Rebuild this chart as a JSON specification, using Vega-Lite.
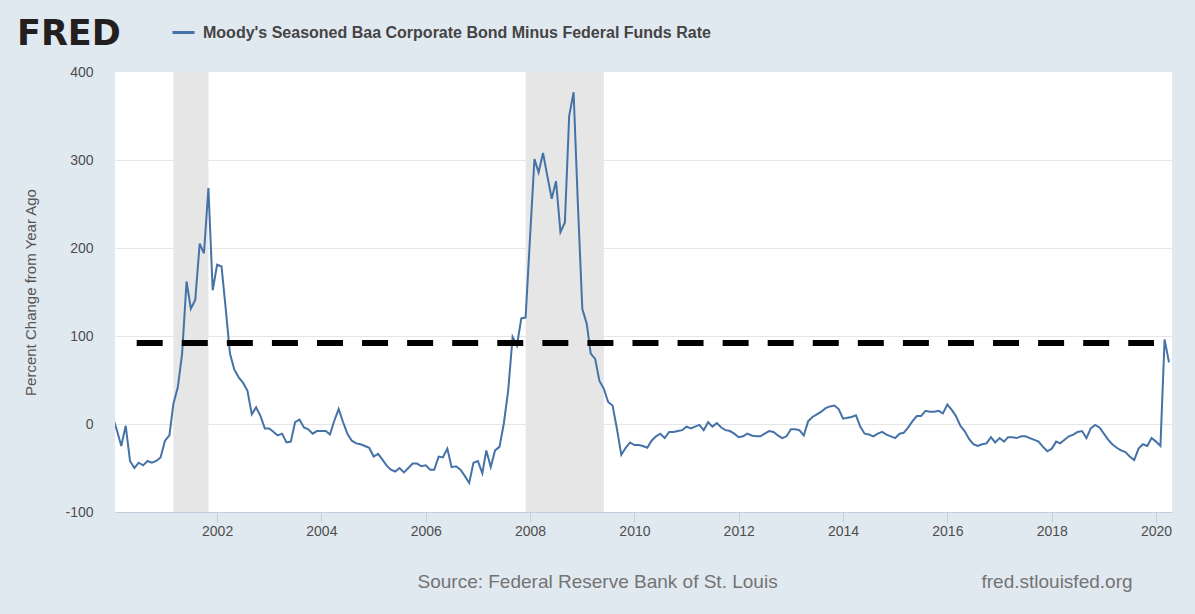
{
  "$schema": "https://vega.github.io/schema/vega-lite/v6.json",
  "width": 1057,
  "height": 440,
  "autosize": "none",
  "padding": {"left": 115, "top": 72, "right": 23, "bottom": 102},
  "title": {
    "text": "FRED",
    "anchor": "start",
    "frame": "group",
    "font": "DejaVu Sans",
    "fontSize": 35,
    "fontWeight": "bold",
    "color": "#231f20",
    "offset": 11,
    "dx": -98,
    "dy": 43
  },
  "datasets": {
    "spread": [
      {"date": "2000-01-01", "value": 8}, {"date": "2000-02-01", "value": -8}, {"date": "2000-03-01", "value": -25}, {"date": "2000-04-01", "value": -2},
      {"date": "2000-05-01", "value": -42}, {"date": "2000-06-01", "value": -50}, {"date": "2000-07-01", "value": -44}, {"date": "2000-08-01", "value": -47},
      {"date": "2000-09-01", "value": -42}, {"date": "2000-10-01", "value": -44}, {"date": "2000-11-01", "value": -42}, {"date": "2000-12-01", "value": -38},
      {"date": "2001-01-01", "value": -19}, {"date": "2001-02-01", "value": -13}, {"date": "2001-03-01", "value": 23}, {"date": "2001-04-01", "value": 42},
      {"date": "2001-05-01", "value": 80}, {"date": "2001-06-01", "value": 162}, {"date": "2001-07-01", "value": 131}, {"date": "2001-08-01", "value": 141},
      {"date": "2001-09-01", "value": 205}, {"date": "2001-10-01", "value": 194}, {"date": "2001-11-01", "value": 268}, {"date": "2001-12-01", "value": 152},
      {"date": "2002-01-01", "value": 181}, {"date": "2002-02-01", "value": 179}, {"date": "2002-03-01", "value": 133}, {"date": "2002-04-01", "value": 80},
      {"date": "2002-05-01", "value": 62}, {"date": "2002-06-01", "value": 53}, {"date": "2002-07-01", "value": 47}, {"date": "2002-08-01", "value": 38},
      {"date": "2002-09-01", "value": 11}, {"date": "2002-10-01", "value": 19}, {"date": "2002-11-01", "value": 9}, {"date": "2002-12-01", "value": -5},
      {"date": "2003-01-01", "value": -5}, {"date": "2003-02-01", "value": -9}, {"date": "2003-03-01", "value": -13}, {"date": "2003-04-01", "value": -11},
      {"date": "2003-05-01", "value": -21}, {"date": "2003-06-01", "value": -20}, {"date": "2003-07-01", "value": 2}, {"date": "2003-08-01", "value": 5},
      {"date": "2003-09-01", "value": -4}, {"date": "2003-10-01", "value": -6}, {"date": "2003-11-01", "value": -11}, {"date": "2003-12-01", "value": -8},
      {"date": "2004-01-01", "value": -8}, {"date": "2004-02-01", "value": -8}, {"date": "2004-03-01", "value": -12}, {"date": "2004-04-01", "value": 4},
      {"date": "2004-05-01", "value": 17}, {"date": "2004-06-01", "value": 2}, {"date": "2004-07-01", "value": -11}, {"date": "2004-08-01", "value": -19},
      {"date": "2004-09-01", "value": -22}, {"date": "2004-10-01", "value": -23}, {"date": "2004-11-01", "value": -25}, {"date": "2004-12-01", "value": -27},
      {"date": "2005-01-01", "value": -37}, {"date": "2005-02-01", "value": -34}, {"date": "2005-03-01", "value": -40}, {"date": "2005-04-01", "value": -47},
      {"date": "2005-05-01", "value": -52}, {"date": "2005-06-01", "value": -54}, {"date": "2005-07-01", "value": -50}, {"date": "2005-08-01", "value": -55},
      {"date": "2005-09-01", "value": -50}, {"date": "2005-10-01", "value": -45}, {"date": "2005-11-01", "value": -45}, {"date": "2005-12-01", "value": -48},
      {"date": "2006-01-01", "value": -47}, {"date": "2006-02-01", "value": -52}, {"date": "2006-03-01", "value": -52}, {"date": "2006-04-01", "value": -37},
      {"date": "2006-05-01", "value": -38}, {"date": "2006-06-01", "value": -28}, {"date": "2006-07-01", "value": -49}, {"date": "2006-08-01", "value": -48},
      {"date": "2006-09-01", "value": -52}, {"date": "2006-10-01", "value": -59}, {"date": "2006-11-01", "value": -67}, {"date": "2006-12-01", "value": -44},
      {"date": "2007-01-01", "value": -42}, {"date": "2007-02-01", "value": -56}, {"date": "2007-03-01", "value": -30}, {"date": "2007-04-01", "value": -49},
      {"date": "2007-05-01", "value": -30}, {"date": "2007-06-01", "value": -26}, {"date": "2007-07-01", "value": 0}, {"date": "2007-08-01", "value": 38},
      {"date": "2007-09-01", "value": 99}, {"date": "2007-10-01", "value": 89}, {"date": "2007-11-01", "value": 120}, {"date": "2007-12-01", "value": 121},
      {"date": "2008-01-01", "value": 212}, {"date": "2008-02-01", "value": 301}, {"date": "2008-03-01", "value": 286}, {"date": "2008-04-01", "value": 308},
      {"date": "2008-05-01", "value": 282}, {"date": "2008-06-01", "value": 256}, {"date": "2008-07-01", "value": 276}, {"date": "2008-08-01", "value": 218},
      {"date": "2008-09-01", "value": 229}, {"date": "2008-10-01", "value": 350}, {"date": "2008-11-01", "value": 377}, {"date": "2008-12-01", "value": 250},
      {"date": "2009-01-01", "value": 131}, {"date": "2009-02-01", "value": 114}, {"date": "2009-03-01", "value": 80}, {"date": "2009-04-01", "value": 74},
      {"date": "2009-05-01", "value": 49}, {"date": "2009-06-01", "value": 40}, {"date": "2009-07-01", "value": 25}, {"date": "2009-08-01", "value": 21},
      {"date": "2009-09-01", "value": -6}, {"date": "2009-10-01", "value": -35}, {"date": "2009-11-01", "value": -27}, {"date": "2009-12-01", "value": -21},
      {"date": "2010-01-01", "value": -24}, {"date": "2010-02-01", "value": -24}, {"date": "2010-03-01", "value": -25}, {"date": "2010-04-01", "value": -27},
      {"date": "2010-05-01", "value": -19}, {"date": "2010-06-01", "value": -14}, {"date": "2010-07-01", "value": -11}, {"date": "2010-08-01", "value": -16},
      {"date": "2010-09-01", "value": -9}, {"date": "2010-10-01", "value": -9}, {"date": "2010-11-01", "value": -8}, {"date": "2010-12-01", "value": -7},
      {"date": "2011-01-01", "value": -3}, {"date": "2011-02-01", "value": -5}, {"date": "2011-03-01", "value": -3}, {"date": "2011-04-01", "value": -1},
      {"date": "2011-05-01", "value": -7}, {"date": "2011-06-01", "value": 2}, {"date": "2011-07-01", "value": -3}, {"date": "2011-08-01", "value": 1},
      {"date": "2011-09-01", "value": -4}, {"date": "2011-10-01", "value": -7}, {"date": "2011-11-01", "value": -8}, {"date": "2011-12-01", "value": -11},
      {"date": "2012-01-01", "value": -15}, {"date": "2012-02-01", "value": -14}, {"date": "2012-03-01", "value": -11}, {"date": "2012-04-01", "value": -13},
      {"date": "2012-05-01", "value": -14}, {"date": "2012-06-01", "value": -14}, {"date": "2012-07-01", "value": -11}, {"date": "2012-08-01", "value": -8},
      {"date": "2012-09-01", "value": -9}, {"date": "2012-10-01", "value": -13}, {"date": "2012-11-01", "value": -16}, {"date": "2012-12-01", "value": -14},
      {"date": "2013-01-01", "value": -6}, {"date": "2013-02-01", "value": -6}, {"date": "2013-03-01", "value": -7}, {"date": "2013-04-01", "value": -13},
      {"date": "2013-05-01", "value": 3}, {"date": "2013-06-01", "value": 8}, {"date": "2013-07-01", "value": 11}, {"date": "2013-08-01", "value": 14},
      {"date": "2013-09-01", "value": 18}, {"date": "2013-10-01", "value": 20}, {"date": "2013-11-01", "value": 21}, {"date": "2013-12-01", "value": 17},
      {"date": "2014-01-01", "value": 6}, {"date": "2014-02-01", "value": 7}, {"date": "2014-03-01", "value": 8}, {"date": "2014-04-01", "value": 10},
      {"date": "2014-05-01", "value": -3}, {"date": "2014-06-01", "value": -11}, {"date": "2014-07-01", "value": -12}, {"date": "2014-08-01", "value": -14},
      {"date": "2014-09-01", "value": -11}, {"date": "2014-10-01", "value": -9}, {"date": "2014-11-01", "value": -12}, {"date": "2014-12-01", "value": -14},
      {"date": "2015-01-01", "value": -16}, {"date": "2015-02-01", "value": -11}, {"date": "2015-03-01", "value": -10}, {"date": "2015-04-01", "value": -4},
      {"date": "2015-05-01", "value": 3}, {"date": "2015-06-01", "value": 9}, {"date": "2015-07-01", "value": 9}, {"date": "2015-08-01", "value": 15},
      {"date": "2015-09-01", "value": 14}, {"date": "2015-10-01", "value": 14}, {"date": "2015-11-01", "value": 15}, {"date": "2015-12-01", "value": 12},
      {"date": "2016-01-01", "value": 22}, {"date": "2016-02-01", "value": 16}, {"date": "2016-03-01", "value": 9}, {"date": "2016-04-01", "value": -2},
      {"date": "2016-05-01", "value": -8}, {"date": "2016-06-01", "value": -17}, {"date": "2016-07-01", "value": -23}, {"date": "2016-08-01", "value": -25},
      {"date": "2016-09-01", "value": -23}, {"date": "2016-10-01", "value": -22}, {"date": "2016-11-01", "value": -15}, {"date": "2016-12-01", "value": -21},
      {"date": "2017-01-01", "value": -16}, {"date": "2017-02-01", "value": -20}, {"date": "2017-03-01", "value": -15}, {"date": "2017-04-01", "value": -15},
      {"date": "2017-05-01", "value": -16}, {"date": "2017-06-01", "value": -14}, {"date": "2017-07-01", "value": -14}, {"date": "2017-08-01", "value": -16},
      {"date": "2017-09-01", "value": -18}, {"date": "2017-10-01", "value": -20}, {"date": "2017-11-01", "value": -26}, {"date": "2017-12-01", "value": -31},
      {"date": "2018-01-01", "value": -28}, {"date": "2018-02-01", "value": -20}, {"date": "2018-03-01", "value": -22}, {"date": "2018-04-01", "value": -18},
      {"date": "2018-05-01", "value": -14}, {"date": "2018-06-01", "value": -12}, {"date": "2018-07-01", "value": -9}, {"date": "2018-08-01", "value": -8},
      {"date": "2018-09-01", "value": -16}, {"date": "2018-10-01", "value": -5}, {"date": "2018-11-01", "value": -1}, {"date": "2018-12-01", "value": -4},
      {"date": "2019-01-01", "value": -11}, {"date": "2019-02-01", "value": -18}, {"date": "2019-03-01", "value": -23}, {"date": "2019-04-01", "value": -27},
      {"date": "2019-05-01", "value": -30}, {"date": "2019-06-01", "value": -32}, {"date": "2019-07-01", "value": -37}, {"date": "2019-08-01", "value": -41},
      {"date": "2019-09-01", "value": -28}, {"date": "2019-10-01", "value": -23}, {"date": "2019-11-01", "value": -25}, {"date": "2019-12-01", "value": -16},
      {"date": "2020-01-01", "value": -20}, {"date": "2020-02-01", "value": -25}, {"date": "2020-03-01", "value": 96}, {"date": "2020-04-01", "value": 70}
    ],
    "recessions": [
      {"start": "2001-03-01", "end": "2001-11-01"},
      {"start": "2007-12-01", "end": "2009-06-01"}
    ],
    "threshold": [
      {"start": "2000-06-17", "end": "2019-12-18", "level": 92}
    ]
  },
  "layer": [
    {
      "data": {"name": "recessions"},
      "mark": {"type": "rect", "color": "#e6e6e6"},
      "encoding": {
        "x": {
          "field": "start",
          "type": "temporal",
          "axis": {
            "orient": "bottom",
            "labels": false,
            "ticks": false,
            "domain": false,
            "grid": false,
            "title": "fred.stlouisfed.org",
            "titleX": 866,
            "titleY": 75,
            "titleAlign": "left",
            "titleBaseline": "alphabetic",
            "titleFont": "Liberation Sans",
            "titleFontSize": 19,
            "titleFontWeight": "normal",
            "titleColor": "#737373"
          }
        },
        "x2": {"field": "end"},
        "y": {"datum": 400},
        "y2": {"datum": -100}
      }
    },
    {
      "data": {"name": "spread"},
      "mark": {"type": "line", "strokeWidth": 2, "clip": true},
      "encoding": {
        "x": {
          "field": "date",
          "type": "temporal",
          "scale": {"domain": [{"year": 2000, "month": 1, "date": 17}, {"year": 2020, "month": 4, "date": 22}]},
          "axis": {
            "orient": "bottom",
            "tickCount": {"interval": "year", "step": 2},
            "format": "%Y",
            "labelFont": "Liberation Sans",
            "labelFontSize": 14,
            "labelColor": "#4d4d4d",
            "labelPadding": 2,
            "labelFlush": false,
            "domainColor": "#c0d0e0",
            "tickColor": "#c0d0e0",
            "tickSize": 10,
            "grid": false,
            "title": "Source: Federal Reserve Bank of St. Louis",
            "titleX": 302,
            "titleY": 75,
            "titleAlign": "left",
            "titleBaseline": "alphabetic",
            "titleFont": "Liberation Sans",
            "titleFontSize": 19,
            "titleFontWeight": "normal",
            "titleColor": "#737373"
          }
        },
        "y": {
          "field": "value",
          "type": "quantitative",
          "scale": {"domain": [-100, 400], "nice": false},
          "axis": {
            "values": [-100, 0, 100, 200, 300, 400],
            "labelExpr": "'' + datum.value",
            "title": "Percent Change from Year Ago",
            "titleFont": "Liberation Sans",
            "titleFontSize": 15,
            "titleFontWeight": "normal",
            "titleColor": "#555555",
            "titlePadding": 26,
            "labelFont": "Liberation Sans",
            "labelFontSize": 14,
            "labelColor": "#4d4d4d",
            "labelPadding": 22,
            "ticks": false,
            "domain": false,
            "grid": true,
            "gridColor": {"condition": {"test": "datum.value === 400", "value": "#ffffff"}, "value": "#e6e6e6"},
            "gridWidth": 1
          }
        },
        "color": {
          "datum": "Moody's Seasoned Baa Corporate Bond Minus Federal Funds Rate",
          "type": "nominal",
          "scale": {"range": ["#4572a7"]},
          "legend": {
            "orient": "none",
            "legendX": 56,
            "legendY": -52,
            "title": null,
            "padding": 0,
            "symbolType": "stroke",
            "symbolSize": 484,
            "symbolStrokeWidth": 3,
            "labelFont": "Liberation Sans",
            "labelFontSize": 16,
            "labelFontWeight": "bold",
            "labelColor": "#444444",
            "labelLimit": 0,
            "labelOffset": 7
          }
        }
      }
    },
    {
      "mark": {"type": "rule", "color": "#000000", "strokeWidth": 2},
      "encoding": {"y": {"datum": 0}}
    },
    {
      "data": {"name": "threshold"},
      "mark": {"type": "rule", "color": "#000000", "strokeWidth": 6, "strokeDash": [26, 19.07]},
      "encoding": {
        "x": {"field": "start", "type": "temporal", "axis": null},
        "x2": {"field": "end"},
        "y": {"field": "level", "type": "quantitative"}
      }
    }
  ],
  "resolve": {"axis": {"x": "independent"}},
  "config": {
    "background": "#e1e9f0",
    "view": {"fill": "#ffffff", "stroke": null},
    "font": "Liberation Sans"
  }
}
